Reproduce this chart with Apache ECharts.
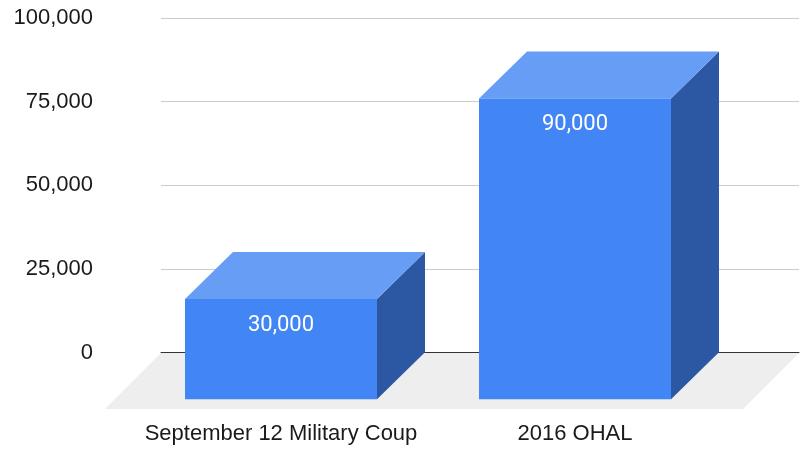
<!DOCTYPE html>
<html>
<head>
<meta charset="utf-8">
<script src="https://cdn.jsdelivr.net/npm/echarts@6/dist/echarts.min.js"></script>
<style>
    html, body { margin: 0; padding: 0; background: #fff; }
    #chart { width: 801px; height: 449px; }
</style>
</head>
<body>
<div id="chart"></div>
<script>
    const categories = ['September 12 Military Coup', '2016 OHAL']
    const values = [30000, 90000]
    const yTicks = { min: 0, max: 100000, interval: 25000 }

    // depth of the fake 3d boxes and of the floor
    const depthX = 48
    const depthY = -47
    const floorDepth = 56

    const fmt = v => v.toLocaleString('en-US')
    const labelFont = '"Liberation Sans", Arial, sans-serif'

    let chart = echarts.init(document.getElementById('chart'))

    let option = {
        animation: false,
        grid: [
            { left: 161, right: 2, top: 18, bottom: 96.5 },   // back wall
            { left: 134, right: 79, top: 65, bottom: 49.7 }   // front plane
        ],
        xAxis: [
            {
                gridIndex: 0,
                type: 'category',
                data: categories,
                z: 3,
                axisLine: { show: true, lineStyle: { color: '#333', width: 1 } },
                axisTick: { show: false },
                axisLabel: { show: false }
            },
            {
                gridIndex: 1,
                type: 'category',
                data: categories,
                axisLine: { show: false },
                axisTick: { show: false },
                axisLabel: {
                    interval: 0,
                    margin: 24,
                    fontSize: 22,
                    color: '#1a1a1a',
                    fontFamily: labelFont
                }
            }
        ],
        yAxis: [
            {
                gridIndex: 0,
                type: 'value',
                min: yTicks.min,
                max: yTicks.max,
                interval: yTicks.interval,
                axisLine: { show: false },
                axisTick: { show: false },
                axisLabel: {
                    margin: 68,
                    fontSize: 22,
                    color: '#1a1a1a',
                    fontFamily: labelFont,
                    formatter: fmt
                },
                splitLine: { lineStyle: { color: '#cccccc', width: 1 } }
            },
            {
                gridIndex: 1,
                type: 'value',
                min: yTicks.min,
                max: yTicks.max,
                interval: yTicks.interval,
                show: false,
                splitLine: { show: false }
            }
        ],
        series: [
            {
                // floor
                type: 'custom',
                xAxisIndex: 0,
                yAxisIndex: 0,
                z: 1,
                silent: true,
                data: [0],
                renderItem: function (params, api) {
                    let cs = params.coordSys
                    let yb = cs.y + cs.height + 0.5
                    return {
                        type: 'polygon',
                        shape: {
                            points: [
                                [cs.x, yb],
                                [cs.x + cs.width, yb],
                                [cs.x + cs.width - floorDepth, yb + floorDepth],
                                [cs.x - floorDepth, yb + floorDepth]
                            ]
                        },
                        style: { fill: '#eeeeee' }
                    }
                }
            },
            {
                type: 'custom',
                xAxisIndex: 1,
                yAxisIndex: 1,
                z: 5,
                data: values.map((v, i) => [i, v]),
                renderItem: function (params, api) {
                    let top = api.coord([api.value(0), api.value(1)])
                    let base = api.coord([api.value(0), 0])
                    let bw = api.size([1, 0])[0] * 0.653
                    let xl = top[0] - bw / 2
                    let xr = top[0] + bw / 2
                    let yt = top[1]
                    let yb = base[1]
                    return {
                        type: 'group',
                        children: [
                            {
                                type: 'polygon',
                                shape: { points: [[xr, yt], [xr + depthX, yt + depthY], [xr + depthX, yb + depthY], [xr, yb]] },
                                style: { fill: '#2b57a3' }
                            },
                            {
                                type: 'polygon',
                                shape: { points: [[xl, yt], [xl + depthX, yt + depthY], [xr + depthX, yt + depthY], [xr, yt]] },
                                style: { fill: '#689df5' }
                            },
                            {
                                type: 'rect',
                                shape: { x: xl, y: yt, width: bw, height: yb - yt },
                                style: { fill: '#4285f4' }
                            },
                            {
                                type: 'text',
                                style: {
                                    x: top[0],
                                    y: yt + 26.5,
                                    text: fmt(api.value(1)),
                                    fill: '#ffffff',
                                    fontSize: 22,
                                    fontFamily: 'Roboto, sans-serif',
                                    align: 'center',
                                    verticalAlign: 'middle'
                                }
                            }
                        ]
                    }
                }
            }
        ]
    }

    chart.setOption(option)
</script>
</body>
</html>
